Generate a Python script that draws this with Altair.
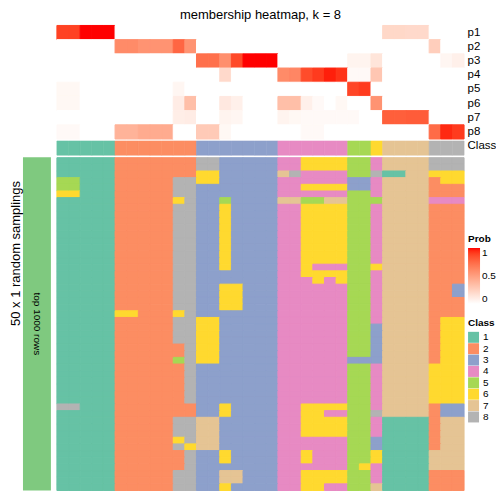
import altair as alt
import pandas as pd

FONT = "Liberation Sans"

cols = list(range(35))
top_rows = ["p1", "p2", "p3", "p4", "p5", "p6", "p7", "p8", "Class"]
class_labels = ["1", "2", "3", "4", "5", "6", "7", "8"]
set2 = ["#66C2A5", "#FC8D62", "#8DA0CB", "#E78AC3", "#A6D854", "#FFD92F", "#E5C494", "#B3B3B3"]

p1 = [0.89,0.89,1,1,1, 0,0,0,0,0,0,0, 0,0,0,0,0,0,0, 0,0,0,0,0,0, 0,0, 0, 0.21,0.21,0.2,0.2, 0,0,0]
p2 = [0,0,0,0,0, 0.6,0.6,0.56,0.56,0.56,0.76,0.56, 0,0,0,0,0,0,0, 0,0,0,0,0,0, 0,0, 0, 0,0,0,0, 0.26,0,0]
p3 = [0,0,0,0,0, 0,0,0,0,0,0,0, 0.72,0.72,0.58,0.87,1,1,1, 0,0,0,0,0,0, 0.06,0.06, 0.14, 0,0,0,0, 0,0.05,0.08]
p4 = [0,0,0,0,0, 0,0,0,0,0,0,0, 0,0,0.2,0,0,0,0, 0.6,0.62,0.86,0.91,0.97,0.93, 0.03,0.03, 0.3, 0,0,0,0, 0,0,0]
p5 = [0.04,0.04,0,0,0, 0,0,0,0,0,0.05,0, 0,0,0,0,0,0,0, 0,0,0,0,0,0, 0.88,0.91, 0, 0,0,0,0, 0,0,0]
p6 = [0.04,0.04,0,0,0, 0,0,0,0,0,0.1,0.34, 0,0,0.12,0.08,0,0,0, 0.34,0.34,0.08,0.03,0,0.04, 0,0, 0.56, 0,0,0,0, 0,0,0]
p7 = [0,0,0,0,0, 0,0,0,0,0,0.09,0.1, 0,0,0.06,0.05,0,0,0, 0.06,0.04,0.03,0.03,0.03,0.03, 0.03,0, 0, 0.79,0.79,0.8,0.8, 0,0,0]
p8 = [0.03,0.03,0,0,0, 0.4,0.4,0.44,0.44,0.44,0,0, 0.28,0.28,0.04,0,0,0,0, 0,0,0.03,0.03,0,0, 0,0, 0, 0,0,0,0, 0.74,0.95,0.91]

class_row = "11111222222233333334444445567777888"

samplings = [
    "11111222222288333334466665547777888",
    "11111222222288333334466665547777888",
    "11111222222266333337844445581177666",
    "55111222228866333334444443347777266",
    "55111222228833333334466663347777222",
    "66111222228833333334444445547777222",
    "11111222226833533337755775557777444",
    "11111222228833633334466665547777222",
    "11111222228833633334466665547777222",
    "11111222228833633334466665547777222",
    "11111222228833633334466665547777222",
    "11111222228833633334466665547777222",
    "11111222228833633334466665547777222",
    "11111222228833633334466665547777222",
    "11111222228833633334466665547777222",
    "11111222228833633334466665547777222",
    "11111222228833633334464445567777222",
    "11111222228833333334466665547777222",
    "11111222228833333334446465547777222",
    "11111222228833663334444445547777223",
    "11111222228833663334444445547777223",
    "11111222228833663334444445547777222",
    "11111222228833663334444445547777222",
    "11111662226833333334444445547777222",
    "11111222228866333334444445547777266",
    "11111222228866333334444445537777266",
    "11111222228866333334444445537777266",
    "11111222228866333334444445537777266",
    "11111222222866333334444445537777266",
    "11111222222866333334444445537777266",
    "11111222225866333334444443337777266",
    "11111222222833333334444445547777666",
    "11111222222833333334444445547777666",
    "11111222222833333334444445547777666",
    "11111222222833333334444445547777666",
    "11111222222833333334444445547777666",
    "11111222222833333334444445547777666",
    "88111222222233633334466665547777233",
    "11111222222233633334466445587777233",
    "11111222228877333334466665541111277",
    "11111222228877333334466665541111277",
    "11111222228877333334466665541111277",
    "11111222226877333334444445531111277",
    "11111222228677333334444445531111277",
    "11111222222833633334464445561111777",
    "11111222222833633334464445561111777",
    "11111222222833333334444445641111777",
    "11111222228833773334466665541111222",
    "11111222228833773334466665541111222",
    "11111222228833633334466445571111222",
]

split_label = ["top 1000 rows"]

# ---- data frames ----
P = [p1, p2, p3, p4, p5, p6, p7, p8]
prob_df = pd.DataFrame(
    [{"col": c, "row": top_rows[k], "prob": P[k][c]} for k in range(8) for c in cols]
)
class_df = pd.DataFrame({"col": cols, "row": ["Class"] * 35, "cls": list(class_row)})
bot_df = pd.DataFrame(
    [{"col": c, "r": i, "cls": s[c]} for i, s in enumerate(samplings) for c in cols]
)
bar_df = pd.DataFrame({"lab": split_label})

PLOT_H = 466

# ---- scales ----
def xs():
    return alt.Scale(domain=cols, range=[34, 442], paddingInner=0, paddingOuter=0)

y_top = alt.Scale(domain=top_rows, range=[0, 128], paddingInner=0, paddingOuter=0)
y_bot = alt.Scale(domain=list(range(len(samplings))), range=[132.5, PLOT_H], paddingInner=0, paddingOuter=0)
fill_scale = alt.Scale(domain=class_labels, range=set2)
prob_scale = alt.Scale(domain=[0, 1], range=["#FFFFFF", "#FF0000"], interpolate="lab")

top_axis = alt.Axis(orient="right", title=None, ticks=False, domain=False, labelPadding=3,
                    labelFontSize=11.5, labelFont=FONT, labelColor="black")

prob_legend = alt.Legend(title="Prob", orient="none", legendX=446, legendY=209,
                         values=[0, 0.5, 1], format="~g", gradientLength=56,
                         gradientThickness=12, gradientStrokeWidth=0, titlePadding=4,
                         labelOffset=2, direction="vertical")
class_legend = alt.Legend(title="Class", orient="none", legendX=446, legendY=293,
                          symbolType="square", symbolSize=121, symbolStrokeWidth=0,
                          rowPadding=0.4, labelOffset=4, titlePadding=4)

prob_layer = alt.Chart(prob_df).mark_rect(strokeWidth=1).encode(
    x=alt.X("col:O", scale=xs(), axis=None),
    y=alt.Y("row:N", scale=y_top, axis=top_axis),
    color=alt.Color("prob:Q", scale=prob_scale, legend=prob_legend),
    stroke=alt.Stroke("prob:Q", scale=prob_scale, legend=None),
)

class_layer = alt.Chart(class_df).mark_rect(strokeWidth=0.6, yOffset=2).encode(
    x=alt.X("col:O", scale=xs(), axis=None),
    y=alt.Y("row:N", scale=y_top, axis=top_axis),
    fill=alt.Fill("cls:N", scale=fill_scale, legend=class_legend),
    stroke=alt.Stroke("cls:N", scale=fill_scale, legend=None),
)

top_layer = alt.layer(prob_layer, class_layer).resolve_scale(stroke="independent")

bottom_layer = alt.Chart(bot_df).mark_rect(strokeWidth=1).encode(
    x=alt.X("col:O", scale=xs(), axis=None),
    y=alt.Y("r:O", scale=y_bot, axis=None),
    fill=alt.Fill("cls:N", scale=fill_scale, legend=class_legend),
    stroke=alt.Stroke("cls:N", scale=fill_scale, legend=None),
)

bar_x = alt.X("lab:N", scale=alt.Scale(range=[0, 28], paddingInner=0, paddingOuter=0), axis=None)
bar_y = alt.Y("lab:N", scale=alt.Scale(range=[132, PLOT_H], paddingInner=0, paddingOuter=0),
              axis=alt.Axis(orient="left", title="50 x 1 random samplings", labels=False,
                            ticks=False, domain=False, titleFontSize=13, titleFont=FONT,
                            titleFontWeight="normal", titlePadding=0, titleY=228,
                            titleColor="black"))

bar = alt.Chart(bar_df).mark_rect(color="#7FC97F").encode(x=bar_x, y=bar_y)
bar_text = alt.Chart(bar_df).mark_text(angle=90, fontSize=10, font=FONT, color="black").encode(
    x=bar_x, y=bar_y, text="lab:N"
)
bar_layer = alt.layer(bar, bar_text)

chart = (
    alt.layer(top_layer, bottom_layer, bar_layer)
    .resolve_scale(x="independent", y="independent", stroke="independent")
    .properties(
        width=442,
        height=PLOT_H,
        padding={"left": 2, "top": 0, "right": 0, "bottom": 0},
        title=alt.TitleParams("membership heatmap, k = 8", anchor="middle", dx=17,
                              fontSize=13, font=FONT, fontWeight="normal", offset=3,
                              color="black"),
    )
    .configure(font=FONT)
    .configure_view(stroke=None)
    .configure_axis(grid=False)
    .configure_legend(titleFont=FONT, labelFont=FONT, titleFontSize=10, labelFontSize=10,
                      titleFontWeight="bold", titleColor="black", labelColor="black", padding=0)
)

chart.save("out.html", embed_options={"renderer": "svg", "actions": False})
